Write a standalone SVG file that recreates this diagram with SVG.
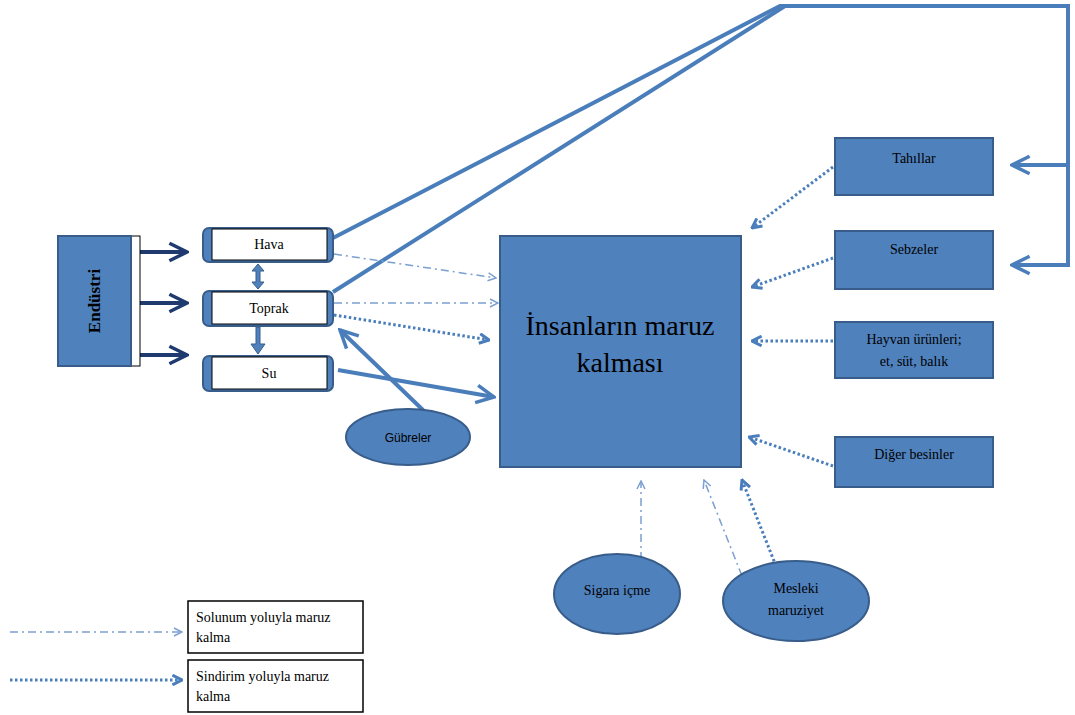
<svg xmlns="http://www.w3.org/2000/svg" width="1075" height="715" viewBox="0 0 1075 715">
<style>
.box{fill:#4F81BD;stroke:#385D8A;stroke-width:2}
.t{font-family:"Liberation Serif",serif;font-size:14px;fill:#000;text-anchor:middle}
.ln{fill:none;stroke:#4A7EBB;stroke-width:4}
.dd{fill:none;stroke:#7BA0D0;stroke-width:1.5;stroke-dasharray:8 4 2 4}
.dot{fill:none;stroke:#4A7EBB;stroke-width:3;stroke-dasharray:2.5 2.5}
.nav{fill:none;stroke:#1F3A6E;stroke-width:4}
</style>
<defs>
<marker id="ao" viewBox="0 0 10 10" refX="9" refY="5" markerWidth="10" markerHeight="10" markerUnits="userSpaceOnUse" orient="auto"><path d="M1,1 L9,5 L1,9" fill="none" stroke="#7BA0D0" stroke-width="1.5"/></marker>
<marker id="ad" viewBox="0 0 10 10" refX="9" refY="5" markerWidth="12" markerHeight="12" markerUnits="userSpaceOnUse" orient="auto"><path d="M1,1 L9,5 L1,9" fill="none" stroke="#4A7EBB" stroke-width="2.5"/></marker>
<marker id="as" viewBox="0 0 10 10" refX="9" refY="5" markerWidth="22" markerHeight="22" markerUnits="userSpaceOnUse" orient="auto"><path d="M1,1 L9,5 L1,9" fill="none" stroke="#4A7EBB" stroke-width="1.6"/></marker>
<marker id="an" viewBox="0 0 10 10" refX="9" refY="5" markerWidth="22" markerHeight="22" markerUnits="userSpaceOnUse" orient="auto"><path d="M1,1 L9,5 L1,9" fill="none" stroke="#1F3A6E" stroke-width="1.6"/></marker>
</defs>
<rect width="1075" height="715" fill="#fff"/>
<g id="connectors">
<path class="nav" d="M140,252 H187" marker-end="url(#an)"/>
<path class="nav" d="M140,303 H187" marker-end="url(#an)"/>
<path class="nav" d="M140,355 H187" marker-end="url(#an)"/>
<path d="M258,264 L252,271 H256 V282 H252 L258,289 L264,282 H260 V271 H264 Z" fill="#4F81BD" stroke="#385D8A" stroke-width="1"/>
<path d="M256,327 V344 H251 L258,354 L265,344 H260 V327 Z" fill="#4F81BD" stroke="#385D8A" stroke-width="1"/>
<path class="ln" d="M333,238 L780,6 L785,6"/>
<path class="ln" d="M333,292 L785,6 H1068 V265 H1012"/>
<path class="ln" d="M1068,165 H1012" marker-end="url(#as)"/>
<path class="ln" d="M1068,265 H1012" marker-end="url(#as)"/>
<path class="dd" d="M334,254 L496,278" marker-end="url(#ao)"/>
<path class="dd" d="M334,303 L498,303" marker-end="url(#ao)"/>
<path class="dot" d="M334,315 L489,340" marker-end="url(#ad)"/>
<path class="ln" d="M338,370 L494,397" marker-end="url(#as)"/>
<path class="ln" d="M425,412 L340,330" marker-end="url(#as)"/>
<path class="dot" d="M833,167 L752,228" marker-end="url(#ad)"/>
<path class="dot" d="M833,258 L752,287" marker-end="url(#ad)"/>
<path class="dot" d="M833,341 L752,341" marker-end="url(#ad)"/>
<path class="dot" d="M833,466 L749,437" marker-end="url(#ad)"/>
<path class="dd" d="M641,560 L641,481" marker-end="url(#ao)"/>
<path class="dd" d="M742,576 L704,480" marker-end="url(#ao)"/>
<path class="dot" d="M776,566 L742,480" marker-end="url(#ad)"/>
<path class="dd" d="M10,632 L182,632" marker-end="url(#ao)"/>
<path class="dot" d="M10,680 L182,680" marker-end="url(#ad)"/>
</g>
<g id="endustri">
<rect x="131" y="236" width="9" height="130" fill="#fff" stroke="#000" stroke-width="1"/>
<rect class="box" x="58" y="236" width="73" height="130"/>
<text transform="translate(96,301) rotate(-90)" class="t" style="font-weight:bold;font-size:17px" dominant-baseline="middle">Endüstri</text>
</g>
<g id="hava">
<rect class="box" x="203" y="228" width="130" height="34" rx="6"/>
<rect x="212" y="229" width="115" height="31" fill="#fff" stroke="#000" stroke-width="1"/>
<text class="t" x="269" y="249">Hava</text>
</g>
<g id="toprak">
<rect class="box" x="203" y="291" width="130" height="35" rx="6"/>
<rect x="212" y="292" width="115" height="32" fill="#fff" stroke="#000" stroke-width="1"/>
<text class="t" x="269" y="313">Toprak</text>
</g>
<g id="su">
<rect class="box" x="203" y="356" width="130" height="35" rx="6"/>
<rect x="212" y="357" width="115" height="32" fill="#fff" stroke="#000" stroke-width="1"/>
<text class="t" x="269" y="378">Su</text>
</g>
<g id="gubreler">
<ellipse class="box" cx="408" cy="437" rx="62" ry="28"/>
<text class="t" x="408" y="442" style="font-family:'Liberation Sans',sans-serif;font-size:12px">Gübreler</text>
</g>
<g id="insan">
<rect class="box" x="500" y="236" width="241" height="231"/>
<text class="t" x="620" y="335" style="font-size:28px">İnsanların maruz</text>
<text class="t" x="620" y="372" style="font-size:28px">kalması</text>
</g>
<g id="tahillar">
<rect class="box" x="835" y="138" width="158" height="57"/>
<text class="t" x="914" y="163">Tahıllar</text>
</g>
<g id="sebzeler">
<rect class="box" x="835" y="231" width="158" height="58"/>
<text class="t" x="914" y="254">Sebzeler</text>
</g>
<g id="hayvan">
<rect class="box" x="835" y="322" width="158" height="56"/>
<text class="t" x="914" y="344">Hayvan ürünleri;</text>
<text class="t" x="914" y="366">et, süt, balık</text>
</g>
<g id="diger">
<rect class="box" x="835" y="437" width="158" height="50"/>
<text class="t" x="914" y="459">Diğer besinler</text>
</g>
<g id="sigara">
<ellipse class="box" cx="617" cy="594" rx="63" ry="40"/>
<text class="t" x="617" y="595">Sigara içme</text>
</g>
<g id="mesleki">
<ellipse class="box" cx="796" cy="601" rx="73" ry="40"/>
<text class="t" x="796" y="593">Mesleki</text>
<text class="t" x="796" y="615">maruziyet</text>
</g>
<g id="legend">
<rect x="188" y="601" width="175" height="52" fill="#fff" stroke="#000" stroke-width="1.5"/>
<text class="t" x="196" y="622" style="text-anchor:start">Solunum yoluyla maruz</text>
<text class="t" x="196" y="642" style="text-anchor:start">kalma</text>
<rect x="188" y="660" width="175" height="52" fill="#fff" stroke="#000" stroke-width="1.5"/>
<text class="t" x="196" y="681" style="text-anchor:start">Sindirim yoluyla maruz</text>
<text class="t" x="196" y="701" style="text-anchor:start">kalma</text>
</g>
</svg>
